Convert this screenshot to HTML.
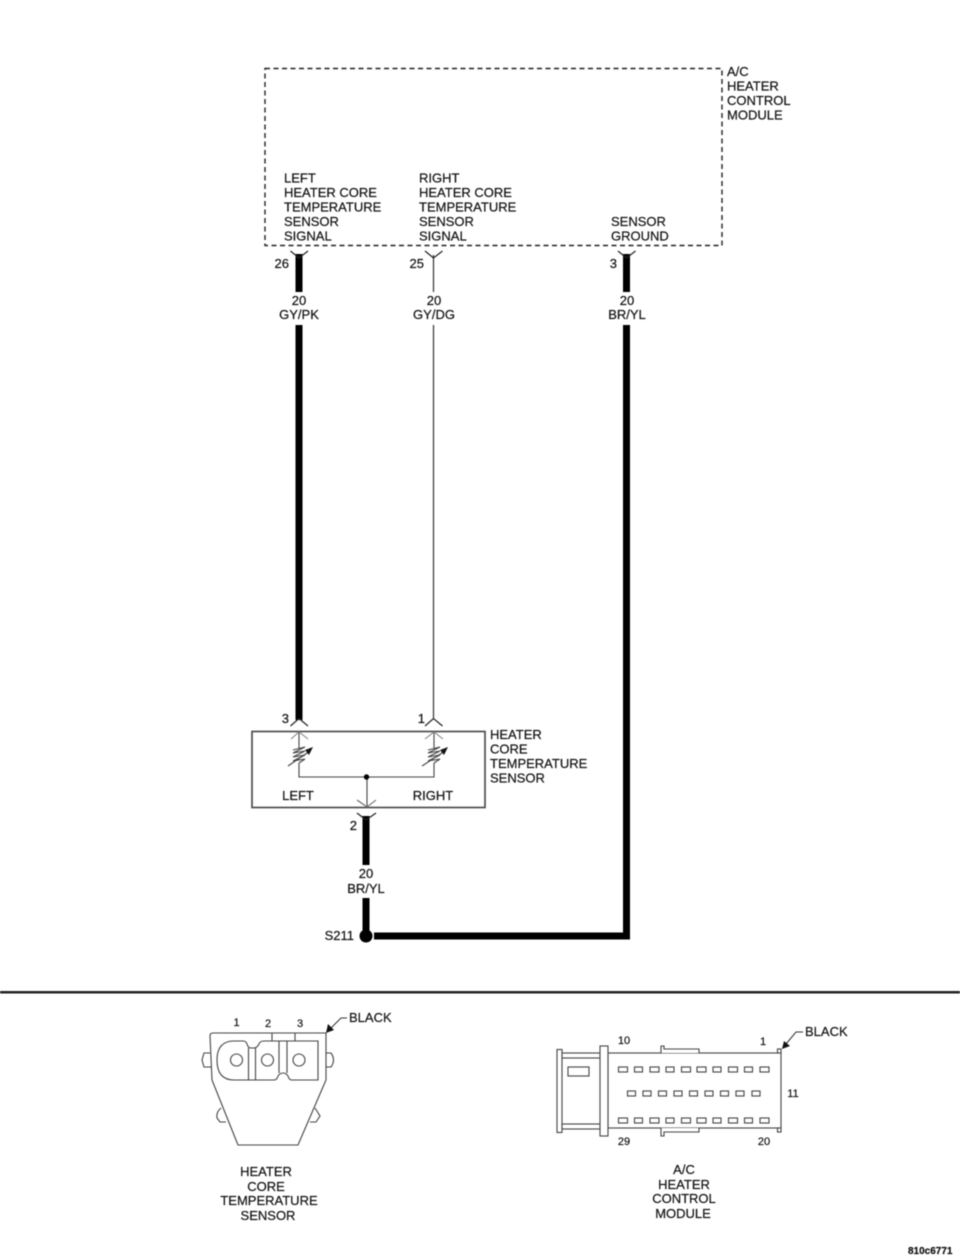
<!DOCTYPE html>
<html>
<head>
<meta charset="utf-8">
<style>
html,body{margin:0;padding:0;background:#fff;}
svg{display:block;filter:blur(0.45px);}
text{font-family:"Liberation Sans",sans-serif;font-size:13px;fill:#111;stroke:#111;stroke-width:0.2px;}
.m{text-anchor:middle;}
.s{font-size:11px;}
.e{text-anchor:end;}
</style>
</head>
<body>
<svg width="960" height="1258" viewBox="0 0 960 1258" xmlns="http://www.w3.org/2000/svg">
<rect width="960" height="1258" fill="#fff"/>

<!-- module box -->
<rect x="265" y="68.500" width="457" height="177" fill="none" stroke="#222" stroke-width="1.400" stroke-dasharray="5 3.500"/>
<text x="727" y="76">A/C</text>
<text x="727" y="90.500">HEATER</text>
<text x="727" y="105">CONTROL</text>
<text x="727" y="119.500">MODULE</text>

<text x="284" y="182.500">LEFT</text>
<text x="284" y="197">HEATER CORE</text>
<text x="284" y="211.500">TEMPERATURE</text>
<text x="284" y="226">SENSOR</text>
<text x="284" y="240.500">SIGNAL</text>

<text x="419" y="182.500">RIGHT</text>
<text x="419" y="197">HEATER CORE</text>
<text x="419" y="211.500">TEMPERATURE</text>
<text x="419" y="226">SENSOR</text>
<text x="419" y="240.500">SIGNAL</text>

<text x="611" y="226">SENSOR</text>
<text x="611" y="240.500">GROUND</text>

<!-- wires -->
<g fill="#000">
<rect x="295.500" y="254" width="7" height="38"/>
<rect x="295.500" y="325" width="7" height="395"/>
<rect x="623" y="254" width="7" height="38"/>
<rect x="623" y="325" width="7" height="614"/>
<rect x="374" y="932.500" width="256" height="7"/>
<rect x="362.500" y="816" width="7" height="49"/>
<rect x="362.500" y="898" width="7" height="34"/>
<circle cx="366" cy="936" r="6.500"/>
</g>
<g stroke="#333" stroke-width="1.200" fill="none">
<line x1="433.500" y1="255" x2="433.500" y2="292"/>
<line x1="433.500" y1="325" x2="433.500" y2="718"/>
</g>

<!-- chevrons -->
<g stroke="#222" stroke-width="1.200" fill="none">
<path d="M290.500 251 L299 258 L308 251"/>
<path d="M425 251 L433.500 258 L442.500 251"/>
<path d="M618 251 L626.500 258 L635.500 251"/>
<path d="M290.500 726 L299 718.500 L308 726"/>
<path d="M425 726 L433.500 718.500 L442.500 726"/>
<path d="M357 813 L366 820 L376 813"/>
</g>

<text class="e" x="289" y="268">26</text>
<text class="e" x="424" y="268">25</text>
<text class="e" x="617" y="268">3</text>

<text class="m" x="299" y="305">20</text>
<text class="m" x="299" y="319">GY/PK</text>
<text class="m" x="434" y="305">20</text>
<text class="m" x="434" y="319">GY/DG</text>
<text class="m" x="627" y="305">20</text>
<text class="m" x="627" y="319">BR/YL</text>

<text class="e" x="289" y="723">3</text>
<text class="e" x="425" y="723">1</text>

<!-- sensor box -->
<rect x="252" y="731.500" width="233" height="76" fill="none" stroke="#444" stroke-width="1.600"/>
<text x="490" y="739">HEATER</text>
<text x="490" y="753.500">CORE</text>
<text x="490" y="768">TEMPERATURE</text>
<text x="490" y="782.500">SENSOR</text>
<text class="m" x="298" y="800">LEFT</text>
<text class="m" x="433" y="800">RIGHT</text>

<g stroke="#444" stroke-width="1.100" fill="none">
<path d="M299 732 V748 M299 763 V777 H434 V763 M434 748 V732"/>
<path d="M367 777 V806"/>
<path d="M291 739 L299 732 L308 739" stroke="#888"/>
<path d="M425 739 L434 732 L443 739" stroke="#888"/>
<path d="M357 800 L367 807 L376 800" stroke="#666"/>
<path d="M293 750 L305 747 L293 753 L305 751 L293 757 L305 755 L293 761 L305 759 L299 763"/>
<path d="M428 750 L440 747 L428 753 L440 751 L428 757 L440 755 L428 761 L440 759 L434 763"/>
<path d="M288 766 L310 751"/>
<path d="M422 766 L445 751"/>
</g>
<path d="M313 747 L305 750 L309 755 Z" fill="#111"/>
<path d="M448 747 L440 750 L444 755 Z" fill="#111"/>
<circle cx="366.500" cy="777" r="2.700" fill="#000"/>

<text class="e" x="357" y="830">2</text>
<text class="m" x="366" y="878">20</text>
<text class="m" x="366" y="893">BR/YL</text>
<text class="e" x="354" y="940">S211</text>

<!-- divider -->
<rect x="0" y="991" width="960" height="2.500" fill="#222"/>

<!-- sensor connector -->
<g stroke="#444" stroke-width="1.100" fill="none">
<path d="M213 1033 H326 V1080 L298 1145 H238 L212 1080 L210 1036 Q210 1033 213 1033 Z"/>
<path d="M272 1033 V1041 M295 1033 V1041"/>
<path d="M234 1041 H243 Q246 1041 247 1044 Q248 1048 251 1048 H254 Q257 1048 259 1044 Q260 1041 264 1041 H318 V1080 H292 Q289 1080 288 1076 Q286 1073 283 1073 Q280 1073 278 1076 Q277 1080 274 1080 H234 Q217 1080 217 1060 Q217 1041 234 1041 Z"/>
<path d="M248.500 1048 V1080 M255.500 1048 V1080"/>
<path d="M279 1041 V1073 M287 1041 V1073"/>
<circle cx="236.500" cy="1060" r="6"/>
<circle cx="267.500" cy="1060" r="6"/>
<circle cx="299" cy="1060" r="6"/>
<path d="M210 1053 H204 L202 1060 L204 1067 H211"/>
<path d="M326 1053 H331 Q336 1060 331 1067 H326"/>
<path d="M221 1108 Q216 1112 217 1118 L220 1122 H226"/>
<path d="M315 1108 L320 1116 L316 1122 H310"/>
</g>
<text class="m s" x="236.500" y="1026">1</text>
<text class="m s" x="268" y="1027">2</text>
<text class="m s" x="300" y="1027">3</text>
<text x="349" y="1022">BLACK</text>
<path d="M347 1018 H341 L330 1029" stroke="#333" fill="none"/>
<path d="M326 1033 L328 1024 L334 1030 Z" fill="#111"/>
<text class="m" x="266" y="1176">HEATER</text>
<text class="m" x="266" y="1191">CORE</text>
<text class="m" x="269" y="1205">TEMPERATURE</text>
<text class="m" x="268" y="1220">SENSOR</text>

<!-- module connector -->
<g stroke="#444" stroke-width="1.100" fill="#fff">
<rect x="608" y="1053" width="173" height="75"/>
<rect x="557" y="1049.500" width="5" height="83"/>
<rect x="562" y="1053" width="38" height="5"/>
<rect x="562" y="1124" width="38" height="5"/>
<rect x="600" y="1046" width="8" height="90"/>
<rect x="568" y="1067" width="21" height="9"/>
<path d="M661 1053 V1046 H664 V1049 H699 V1053 M661 1128 V1136 H664 V1132 H699 V1128"/>
<rect x="777.500" y="1049" width="3.500" height="4"/>
<rect x="777.500" y="1128" width="3.500" height="4"/>
</g>
<g fill="#fff" stroke="#444" stroke-width="1.100">
<rect x="618.500" y="1067" width="9" height="5"/><rect x="634.500" y="1067" width="8" height="5"/><rect x="650" y="1067" width="9" height="5"/><rect x="666" y="1067" width="8" height="5"/><rect x="681.500" y="1067" width="9" height="5"/><rect x="697" y="1067" width="9" height="5"/><rect x="713" y="1067" width="8" height="5"/><rect x="728.500" y="1067" width="9" height="5"/><rect x="744.500" y="1067" width="8" height="5"/><rect x="760" y="1067" width="9" height="5"/>
<rect x="627.500" y="1091" width="8" height="5"/><rect x="643" y="1091" width="8" height="5"/><rect x="658.500" y="1091" width="8" height="5"/><rect x="674" y="1091" width="8" height="5"/><rect x="689.500" y="1091" width="8" height="5"/><rect x="705" y="1091" width="8" height="5"/><rect x="720.500" y="1091" width="8" height="5"/><rect x="736" y="1091" width="8" height="5"/><rect x="752" y="1091" width="8" height="5"/>
<rect x="618.500" y="1118" width="9" height="5"/><rect x="634.500" y="1118" width="8" height="5"/><rect x="650" y="1118" width="9" height="5"/><rect x="666" y="1118" width="8" height="5"/><rect x="681.500" y="1118" width="9" height="5"/><rect x="697" y="1118" width="9" height="5"/><rect x="713" y="1118" width="8" height="5"/><rect x="728.500" y="1118" width="9" height="5"/><rect x="744.500" y="1118" width="8" height="5"/><rect x="760" y="1118" width="9" height="5"/>
</g>
<text class="m s" x="624" y="1044">10</text>
<text class="m s" x="763" y="1045">1</text>
<text class="m s" x="793" y="1097">11</text>
<text class="m s" x="624" y="1145">29</text>
<text class="m s" x="764" y="1145">20</text>
<text x="805" y="1036">BLACK</text>
<path d="M803 1032 H796 L786 1044" stroke="#333" fill="none"/>
<path d="M782 1049 L784 1041 L790 1046 Z" fill="#111"/>
<text class="m" x="684" y="1174">A/C</text>
<text class="m" x="684" y="1189">HEATER</text>
<text class="m" x="684" y="1203">CONTROL</text>
<text class="m" x="683" y="1218">MODULE</text>

<text x="908" y="1254" style="font-size:10px;font-weight:bold">810c6771</text>
</svg>
</body>
</html>
